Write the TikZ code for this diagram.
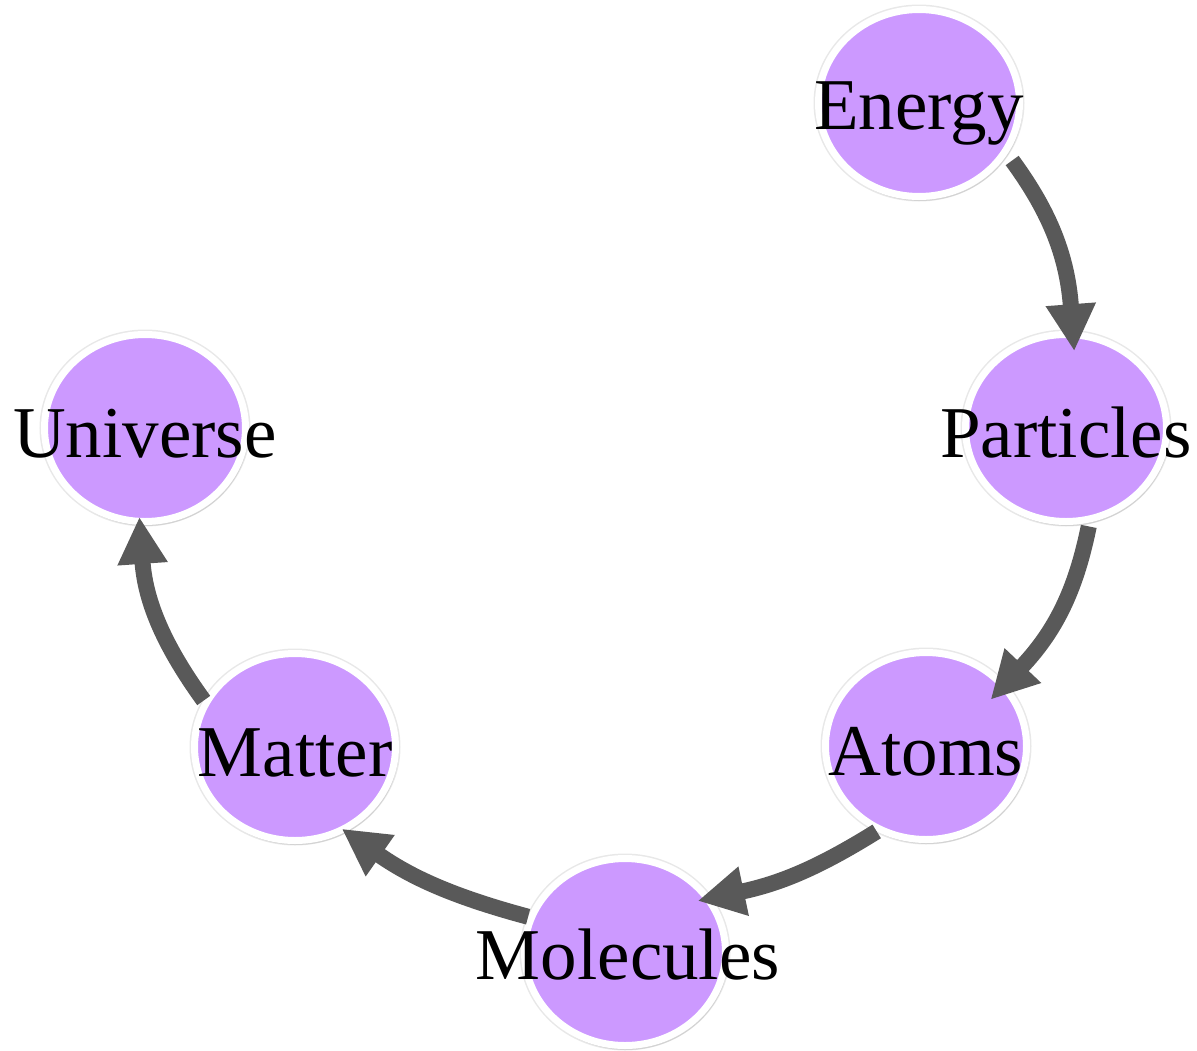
\documentclass[tikz,border=0pt]{standalone}
\usepackage{fontspec}
\setmainfont{Liberation Serif}
\usetikzlibrary{shapes.geometric,arrows.meta,shadows}
\definecolor{bubblefill}{HTML}{CC99FF}
\definecolor{arrowgray}{HTML}{595959}
\tikzset{
  bubble/.style={ellipse, minimum width=201pt, minimum height=187pt, inner sep=0pt,
    fill=bubblefill, draw=white, line width=7pt,
    preaction={draw=black!9, line width=10pt},
    drop shadow={opacity=0.2, shadow xshift=1.5pt, shadow yshift=-3pt, shadow scale=1.015}},
  lbl/.style={font=\fontsize{73}{80}\selectfont, text=black, inner sep=0pt, anchor=base},
  flow/.style={draw=arrowgray, line width=16pt,
    -{Triangle[length=47pt,width=47pt]}}
}
\begin{document}
\begin{tikzpicture}[x=1pt,y=-1pt]
\useasboundingbox (0,0) rectangle (1197,1050);
\node[bubble] (E) at (919,103) {};
\node[bubble] (P) at (1066,428) {};
\node[bubble] (A) at (926,746) {};
\node[bubble] (Mo) at (625,952) {};
\node[bubble] (Ma) at (295,747) {};
\node[bubble] (U) at (145,428) {};
\node[lbl] at ([yshift=-26pt]E.center) {Energy};
\node[lbl] at ([yshift=-29pt]P.center) {Particles};
\node[lbl] at ([yshift=-29pt]A.center) {Atoms};
\node[lbl] at ([yshift=-27pt,xshift=3pt]Mo.center) {Molecules};
\node[lbl] at ([yshift=-29pt]Ma.center) {Matter};
\node[lbl] at ([yshift=-29pt]U.center) {Universe};
\draw[flow, shorten <=8pt, shorten >=-20pt] (E.-30) to[bend left=16] (P.86);
\draw[flow, shorten <=4pt, shorten >=-22pt] (P.-76) to[bend left=16] (A.38);
\draw[flow, shorten >=-14pt] (A.-120) to[bend left=10] (Mo.32);
\draw[flow, shorten >=-5pt] (Mo.160) to[bend left=10] (Ma.-59);
\draw[flow, shorten >=-8pt] (Ma.153) to[bend left=16] (U.-93);
\end{tikzpicture}
\end{document}
